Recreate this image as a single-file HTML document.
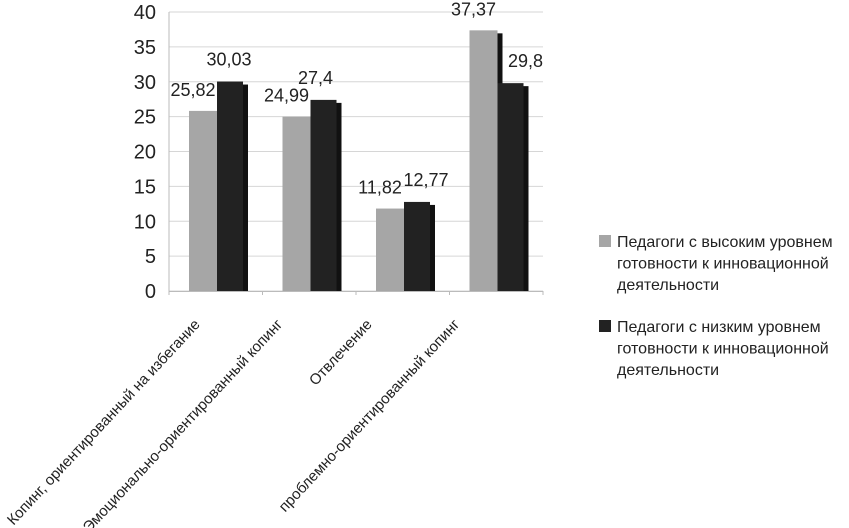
<!DOCTYPE html>
<html><head><meta charset="utf-8"><style>
body{margin:0;background:#fff;}
svg{display:block;font-family:"Liberation Sans",sans-serif;}
</style></head><body>
<svg id="chart" width="849" height="528" viewBox="0 0 849 528">
<g id="grid"></g>
<g id="yaxis"></g>
<g id="bars"></g>
<g id="labels"></g>
<g id="xaxis"></g>
<g font-size="16" fill="#222">
  <rect x="599" y="235" width="12" height="12" fill="#a6a6a6"/>
  <text x="617" y="247"><tspan x="617">Педагоги с высоким уровнем</tspan><tspan x="617" dy="21.5">готовности к инновационной</tspan><tspan x="617" dy="21.5">деятельности</tspan></text>
  <rect x="599" y="320" width="12" height="12" fill="#222"/>
  <text x="617" y="332"><tspan x="617">Педагоги с низким уровнем</tspan><tspan x="617" dy="21.5">готовности к инновационной</tspan><tspan x="617" dy="21.5">деятельности</tspan></text>
</g>
</svg>
<script>
const categories = ["Копинг, ориентированный на избегание","Эмоционально-ориентированный копинг","Отвлечение","проблемно-ориентированный копинг"];
const highValues = [25.82, 24.99, 11.82, 37.37];
const lowValues = [30.03, 27.4, 12.77, 29.8];
const highLabels = ["25,82","24,99","11,82","37,37"];
const lowLabels = ["30,03","27,4","12,77","29,8"];
const yTicks = [0,5,10,15,20,25,30,35,40];

const NS="http://www.w3.org/2000/svg";
const x0=169, x1=543, yTop=12, yBot=291, yMax=40;
const catW=(x1-x0)/categories.length;
const lowLabelDx=[-8,-15,2,8];
const catLabelDx=[-17,-28,-32,-38];
const y=v=>yBot-(v/yMax)*(yBot-yTop);
const cx=i=>x0+catW*i;
function mk(tag,attrs,parent){const e=document.createElementNS(NS,tag);for(const k in attrs)e.setAttribute(k,attrs[k]);parent.appendChild(e);return e;}
const grid=document.getElementById('grid'),ya=document.getElementById('yaxis'),bars=document.getElementById('bars'),labels=document.getElementById('labels'),xa=document.getElementById('xaxis');

yTicks.forEach(t=>{
  const l=mk('line',{x1:x0,x2:x1,y1:y(t),y2:y(t),stroke:'#d6d6d6','stroke-width':1},grid);
  
  
  const tx=mk('text',{x:156,y:y(t)+7,'text-anchor':'end','font-size':20,fill:'#222'},ya);
  tx.textContent=t;
  
  
});
const ax=mk('line',{x1:x0,x2:x0,y1:yTop,y2:yBot+4,stroke:'#bbb'},ya);


const bx=mk('line',{x1:x0,x2:x1,y1:yBot+0.5,y2:yBot+0.5,stroke:'#bbb'},xa);



categories.forEach((c,i)=>{
  const tk=mk('line',{x1:cx(i+1),x2:cx(i+1),y1:yBot,y2:yBot+4,stroke:'#bbb'},xa);
  
  
  const gx=cx(i)+20;
  const gs=mk('rect',{x:gx+5,y:y(highValues[i])+3,width:28,height:yBot-y(highValues[i])-3,fill:'#111'},bars);
  
  
  const g=mk('rect',{x:gx,y:y(highValues[i]),width:28,height:yBot-y(highValues[i]),fill:'#a6a6a6'},bars);
  
  
  const bxp=gx+28;
  const sh=mk('rect',{x:bxp+5,y:y(lowValues[i])+3,width:26,height:yBot-y(lowValues[i])-3,fill:'#111'},bars);
  
  
  const b=mk('rect',{x:bxp,y:y(lowValues[i]),width:26,height:yBot-y(lowValues[i]),fill:'#222'},bars);
  
  
  const hl=mk('text',{x:gx+4,y:y(highValues[i])-15,'text-anchor':'middle','font-size':18,fill:'#222'},labels);
  hl.textContent=highLabels[i];
  
  
  const ll=mk('text',{x:bxp+20+lowLabelDx[i],y:y(lowValues[i])-16,'text-anchor':'middle','font-size':18,fill:'#222'},labels);
  ll.textContent=lowLabels[i];
  
  
  const ccx=cx(i)+catW/2+catLabelDx[i]+2, ccy=yBot+34;
  const xl=mk('text',{x:ccx,y:ccy,'text-anchor':'end','font-size':15,'font-weight':'normal',fill:'#222',transform:`rotate(-47 ${ccx} ${ccy})`},xa);
  xl.textContent=c;
  
  
});
</script>
</body></html>
